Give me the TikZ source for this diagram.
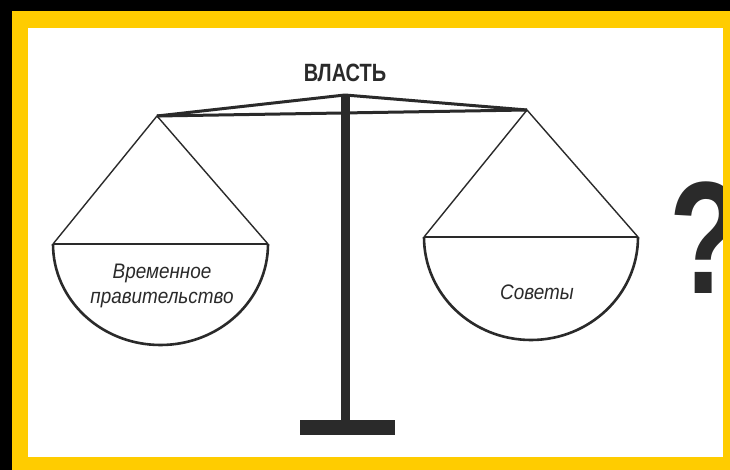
\documentclass[tikz,border=0pt]{standalone}
\usepackage{fontspec}
\setmainfont{Liberation Sans}
\usetikzlibrary{positioning}
\definecolor{frameyellow}{HTML}{FFCC00}
\definecolor{inkgrey}{HTML}{2A2A2A}

\begin{document}
\begin{tikzpicture}[x=1pt, y=-1pt, line join=round,
    beam/.style={line width=3pt, inkgrey},
    cord/.style={line width=1.4pt, inkgrey},
    pan/.style={line width=2.6pt, inkgrey},
    panlabel/.style={font=\fontsize{21}{24}\selectfont\itshape, text=inkgrey, align=center, inner sep=0pt}]
    \useasboundingbox (0,0) rectangle (730,470);

    % --- Frame ---
    \fill[black] (0,0) rectangle (730,470);
    \fill[frameyellow] (12,11) rectangle (730,470);
    \fill[white] (28,28) rectangle (723,457);

    % --- Stand ---
    \coordinate (apex) at (345,95);
    \coordinate (lend) at (157,116);
    \coordinate (rend) at (527,110);
    \fill[inkgrey] (340.5,95) rectangle (349.5,425);
    \fill[inkgrey] (300,420) rectangle (395,435);
    \draw[beam] (lend) -- (apex) -- (rend);
    \draw[beam] (lend) -- (rend);

    \node[font=\fontsize{25}{28}\selectfont\bfseries, text=inkgrey] (power) at (345,73)
        {\scalebox{0.8}[1]{ВЛАСТЬ}};

    % Left pan
    \coordinate (la) at (53,244);
    \coordinate (lb) at (268,244);
    \draw[cord] (la) -- (lend) -- (lb);
    \draw[pan] (la) -- (lb);
    \draw[pan] (la) arc[start angle=180, end angle=0, x radius=107.5, y radius=101];
    \node[panlabel] (gov) at (162,286)
        {\scalebox{0.9}[1]{Временное}\\[1pt]\scalebox{0.9}[1]{правительство}};

    % Right pan
    \coordinate (ra) at (424,237);
    \coordinate (rb) at (638,237);
    \draw[cord] (ra) -- (rend) -- (rb);
    \draw[pan] (ra) -- (rb);
    \draw[pan] (ra) arc[start angle=180, end angle=0, x radius=107, y radius=103];
    \node[panlabel] (soviets) at (537,292) {\scalebox{0.9}[1]{Советы}};

    % Question mark, cut by the frame
    \node[font=\fontsize{160}{160}\selectfont\bfseries, text=inkgrey, anchor=base west, inner sep=0pt] (quest) at (669,293)
        {\scalebox{0.75}[1]{?}};
    \fill[frameyellow] (723,11) rectangle (730,470);
\end{tikzpicture}
\end{document}
